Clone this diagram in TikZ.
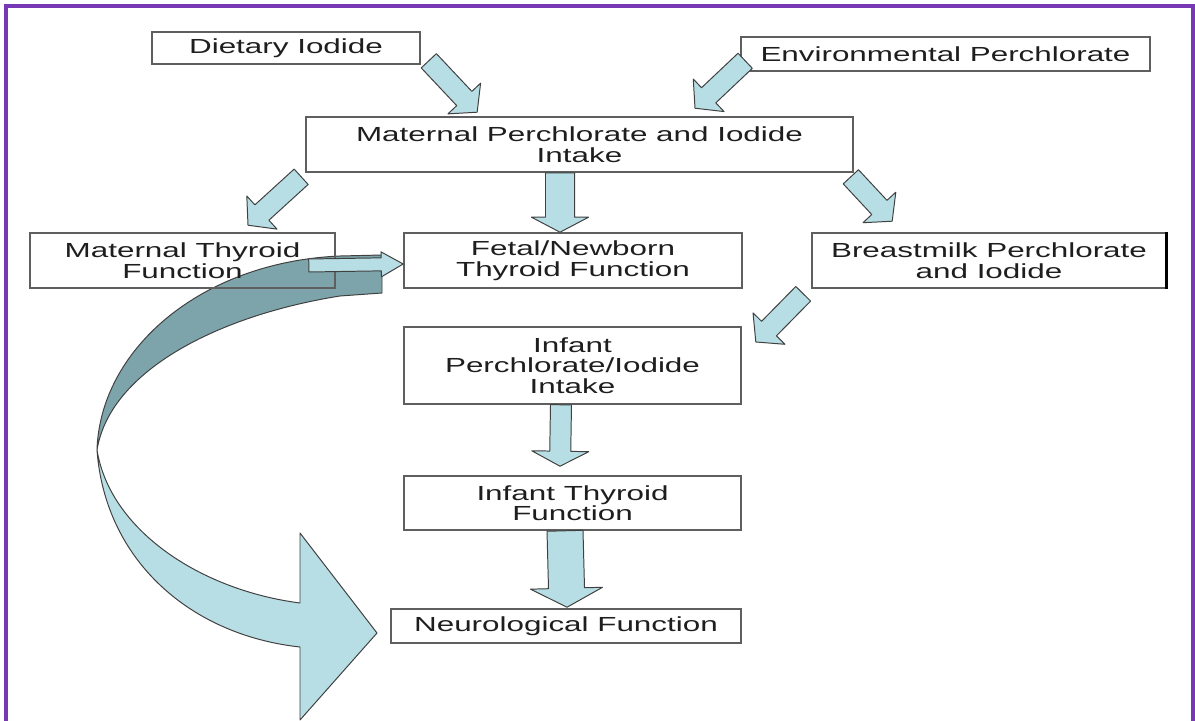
\documentclass[tikz,border=0pt]{standalone}
\usepackage{fontspec}
\setmainfont[FakeStretch=1.54]{Liberation Sans}
\usetikzlibrary{calc}

\definecolor{framepurple}{RGB}{118,56,180}
\definecolor{arrowblue}{RGB}{183,222,228}
\definecolor{arrowteal}{RGB}{124,164,170}
\definecolor{boxline}{RGB}{95,95,95}
\definecolor{textgray}{RGB}{30,30,30}

\pgfdeclarelayer{background}
\pgfsetlayers{background,main}

\tikzset{
  flowbox/.style={draw=boxline, line width=1.1pt, align=center, inner sep=0pt,
    text=textgray, font=\fontsize{14.5}{14.6}\selectfont},
  flowarrow/.style={draw=black!75, line width=0.7pt, fill=arrowblue, line join=round},
}

% block arrow: start, tip, shaft half width, head half width, head length
\newcommand{\blockarrow}[5]{%
  \coordinate (hb) at ($(#2)!#5!(#1)$);
  \draw[flowarrow] ($(#1)!#3!90:(#2)$) -- ($(hb)!#3!-90:(#1)$) -- ($(hb)!#4!-90:(#1)$)
    -- (#2) -- ($(hb)!#4!90:(#1)$) -- ($(hb)!#3!90:(#1)$) -- ($(#1)!#3!-90:(#2)$) -- cycle;
}

\begin{document}
\begin{tikzpicture}[x=0.025cm, y=-0.025cm]
  \useasboundingbox (0,0) rectangle (1195,721);
  \draw[framepurple, line width=2.4pt] (6,730) -- (6,6) -- (1193,6) -- (1193,730);

  % boxes
  \node[flowbox, minimum width=6.7cm,   minimum height=0.8cm]   (diet)   at (286,48)      {Dietary Iodide};
  \node[flowbox, minimum width=10.225cm, minimum height=0.85cm] (env)    at (945.5,54)    {Environmental Perchlorate};
  \node[flowbox, minimum width=13.675cm, minimum height=1.375cm] (mat)   at (579.5,144.5) {Maternal Perchlorate and Iodide\\Intake};
  \node[flowbox, minimum width=7.625cm, minimum height=1.375cm] (mthy)   at (182.5,260.5) {Maternal Thyroid\\Function};
  \node[flowbox, minimum width=8.45cm,  minimum height=1.375cm] (fetal)  at (573,260.5)   {Fetal/Newborn\\Thyroid Function};
  \node[flowbox, minimum width=8.85cm,  minimum height=1.375cm] (breast) at (989,260.5)   {Breastmilk Perchlorate\\and Iodide};
  \node[flowbox, minimum width=8.425cm, minimum height=1.925cm] (infint) at (572.5,365.5) {Infant\\Perchlorate/Iodide\\Intake};
  \node[flowbox, minimum width=8.425cm, minimum height=1.35cm]  (infthy) at (572.5,503)   {Infant Thyroid\\Function};
  \node[flowbox, minimum width=8.75cm,  minimum height=0.85cm]  (neuro)  at (566,626)     {Neurological Function};
  \draw[black, line width=2.2pt] (breast.north east) -- (breast.south east);

  % arrow ends
  \coordinate (a1s) at ($(diet.south east)+(8,-4)$);
  \coordinate (a1t) at ($(mat.north west)+(172,-4)$);
  \coordinate (a2s) at ($(env.south west)+(5,-11)$);
  \coordinate (a2t) at ($(mat.north)+(115.5,-8)$);
  \coordinate (a3s) at ($(mat.south west)+(-4,4)$);
  \coordinate (a3t) at ($(mthy.north)+(65.5,-7)$);
  \coordinate (a4s) at ($(mat.south)+(-19.5,0)$);
  \coordinate (a4t) at ($(fetal.north)+(-13,0)$);
  \coordinate (a5s) at ($(mat.south east)+(-3,4)$);
  \coordinate (a5t) at ($(breast.north west)+(81,-11)$);
  \coordinate (a6s) at ($(breast.south west)+(-8,5)$);
  \coordinate (a6t) at ($(infint.east)+(14,-23.5)$);
  \coordinate (a7s) at ($(infint.south)+(-11.5,0)$);
  \coordinate (a7t) at ($(infthy.north)+(-12.5,-9)$);
  \coordinate (a8s) at ($(infthy.south)+(-7.5,0)$);
  \coordinate (a8t) at ($(neuro.north)+(1,-1)$);
  \coordinate (a9s) at ($(mthy.east)+(-27,5)$);
  \coordinate (a9t) at ($(fetal.west)+(0,3.5)$);

  % block arrows
  \blockarrow{a1s}{a1t}{0.26cm}{0.56cm}{0.47cm}
  \blockarrow{a2s}{a2t}{0.26cm}{0.56cm}{0.47cm}
  \blockarrow{a3s}{a3t}{0.26cm}{0.56cm}{0.47cm}
  \blockarrow{a4s}{a4t}{0.3625cm}{0.7125cm}{0.375cm}
  \blockarrow{a5s}{a5t}{0.26cm}{0.56cm}{0.47cm}
  \blockarrow{a6s}{a6t}{0.26cm}{0.56cm}{0.47cm}
  \blockarrow{a7s}{a7t}{0.2625cm}{0.7125cm}{0.375cm}
  \blockarrow{a8s}{a8t}{0.45cm}{0.9cm}{0.475cm}
  \blockarrow{a9s}{a9t}{0.1625cm}{0.3125cm}{0.55cm}

  % big curved arrow behind the boxes
  \begin{pgfonlayer}{background}
    \draw[flowarrow, fill=arrowteal] (382,255) -- (340,256)
      .. controls (200,262) and (100,350) .. (97,450)
      .. controls (110,370) and (220,315) .. (340,296) -- (382,293) -- cycle;
    \draw[flowarrow] (97,450) .. controls (110,530) and (200,590) .. (300,603)
      -- (300,533) -- (377,633) -- (300,720) -- (300,647)
      .. controls (190,635) and (105,560) .. (97,450) -- cycle;
  \end{pgfonlayer}
\end{tikzpicture}
\end{document}
